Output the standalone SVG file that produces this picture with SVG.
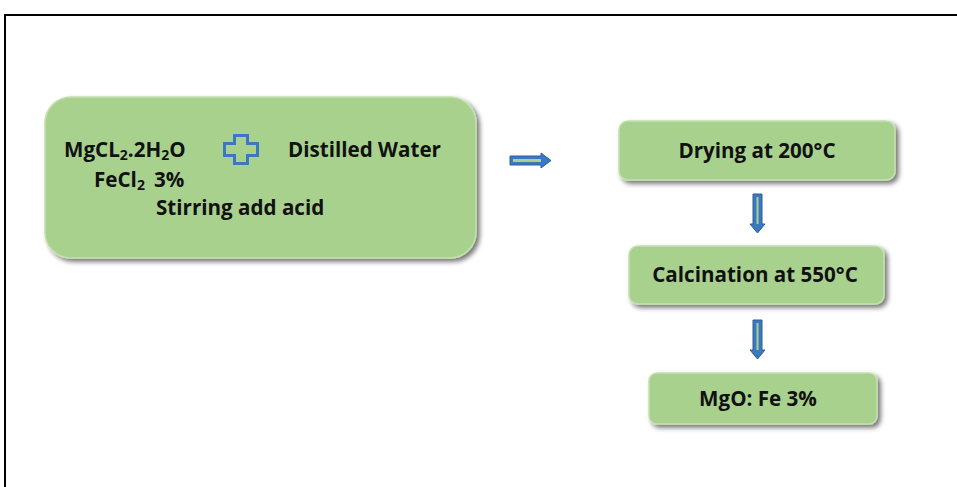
<svg xmlns="http://www.w3.org/2000/svg" width="957" height="487" viewBox="0 0 957 487">
<defs>
<filter id="sh" x="-10%" y="-20%" width="130%" height="150%">
<feGaussianBlur in="SourceAlpha" stdDeviation="2.5"/>
<feOffset dx="3" dy="3" result="b"/>
<feComponentTransfer><feFuncA type="linear" slope="0.55"/></feComponentTransfer>
<feMerge><feMergeNode/><feMergeNode in="SourceGraphic"/></feMerge>
</filter>
</defs>
<style>
.box{fill:#a9d18e;stroke:#c3e0ae;stroke-width:1.5;filter:url(#sh)}
.t{font-family:"Open Sans","Liberation Sans",sans-serif;font-weight:bold;font-size:20.6px;fill:#111}
.s{font-size:14px}
.arr{fill:#3a78c0;stroke:#2e5f9a;stroke-width:1}
.inner{fill:#a9d18e}
</style>
<rect x="0" y="0" width="957" height="487" fill="#fff"/>
<path d="M5 487 V15 H957" fill="none" stroke="#000" stroke-width="2"/>
<g id="node-mix">
<rect class="box" x="45" y="97" width="431" height="161" rx="26"/>
<text class="t" x="64" y="157">MgCL<tspan class="s" dy="3">2</tspan><tspan dy="-3">.2H</tspan><tspan class="s" dy="3">2</tspan><tspan dy="-3">O</tspan></text>
<path d="M234.5 135.5 h13 v8 h10 v12 h-10 v8 h-13 v-8 h-10 v-12 h10 z" fill="none" stroke="#3a78c0" stroke-width="3"/>
<text class="t" x="288" y="157">Distilled Water</text>
<text class="t" x="94" y="187">FeCl<tspan class="s" dy="3">2</tspan><tspan dx="9" dy="-3">3%</tspan></text>
<text class="t" x="156" y="215">Stirring add acid</text>
</g>
<g id="node-drying">
<rect class="box" x="619" y="121" width="276" height="59" rx="9"/>
<text class="t" x="757" y="158" text-anchor="middle">Drying at 200°C</text>
</g>
<g id="node-calc">
<rect class="box" x="629" y="246" width="255" height="58" rx="9"/>
<text class="t" x="755" y="282" text-anchor="middle">Calcination at 550°C</text>
</g>
<g id="node-mgo">
<rect class="box" x="649" y="373" width="228" height="51" rx="8"/>
<text class="t" x="758" y="406" text-anchor="middle">MgO: Fe 3%</text>
</g>
<g id="connectors">
<path class="arr" d="M510 156 h31 v-3 l10 7.5 l-10 7.5 v-3 h-31 z"/>
<rect class="inner" x="513" y="159" width="28" height="3"/>
<path class="arr" d="M753 194 h9 v30 h3 l-7.5 9 l-7.5 -9 h3 z"/>
<rect class="inner" x="756.5" y="197" width="2" height="27"/>
<path class="arr" d="M753 320 h9 v30 h3 l-7.5 9 l-7.5 -9 h3 z"/>
<rect class="inner" x="756.5" y="323" width="2" height="27"/>
</g>
</svg>
